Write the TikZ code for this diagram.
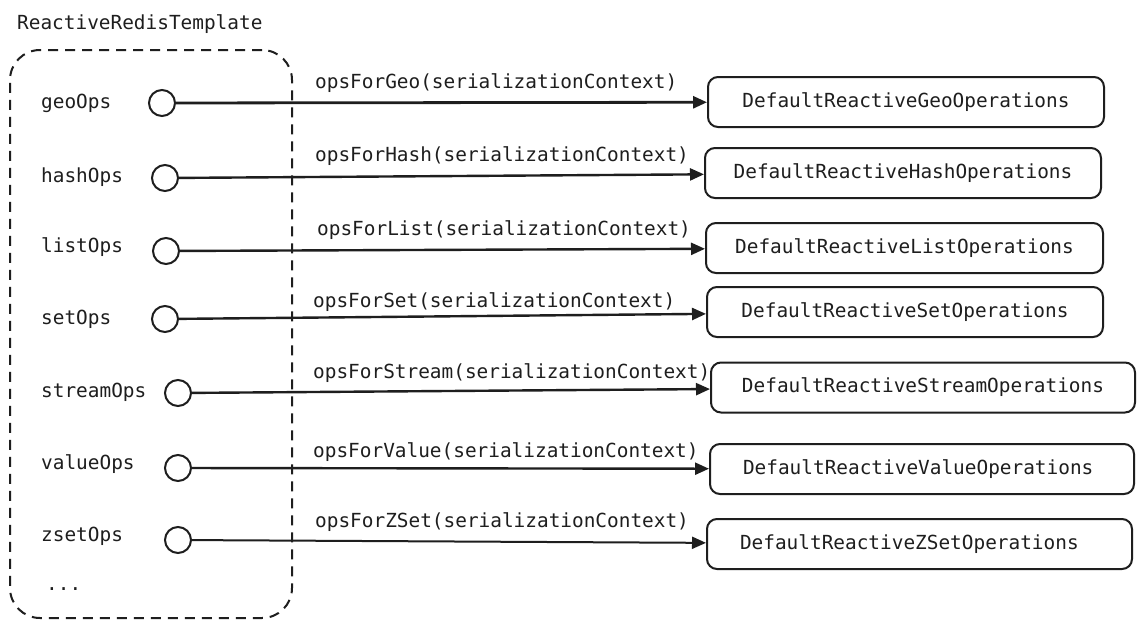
\documentclass[tikz,border=0pt]{standalone}
\usepackage{fontspec}
\newfontfamily\codefont{DejaVu Sans Mono}
\usetikzlibrary{arrows.meta}
\definecolor{ink}{HTML}{1E1E1E}
\tikzset{
  every node/.style={font=\codefont\fontsize{19.4}{23}\selectfont, text=ink},
  opbox/.style={draw=ink, line width=2pt, rounded corners=10pt, minimum height=50pt, inner sep=0pt},
  leftbox/.style={opbox, inner xsep=33pt, align=left},
  port/.style={draw=ink, line width=2pt, circle, minimum size=26pt, inner sep=0pt},
  conn/.style={draw=ink, line width=2.4pt, -{Triangle[length=14pt,width=12pt]}},
  txt/.style={anchor=base west, inner sep=0pt},
  tmplbox/.style={draw=ink, line width=2pt, dash pattern=on 10pt off 7pt, rounded corners=30pt, inner sep=0pt}
}
\begin{document}
\begin{tikzpicture}[x=1pt, y=-1pt]
\useasboundingbox[fill=white] (0,0) rectangle (1143,629);

% template container
\node[txt] (title) at (17,29) {ReactiveRedisTemplate};
\node[tmplbox, minimum width=282pt, minimum height=568pt] (tmpl) at (151,334) {};

% field labels
\node[txt] (lgeo) at (41,108) {geoOps};
\node[txt] (lhash) at (41,182) {hashOps};
\node[txt] (llist) at (41,252) {listOps};
\node[txt] (lset) at (41,324) {setOps};
\node[txt] (lstream) at (41,397) {streamOps};
\node[txt] (lvalue) at (41,469) {valueOps};
\node[txt] (lzset) at (41,541) {zsetOps};
\node[txt] (ldots) at (46,590) {...};

% ports
\node[port] (cgeo) at (162,103) {};
\node[port] (chash) at (165,178) {};
\node[port] (clist) at (166,251) {};
\node[port] (cset) at (165,319) {};
\node[port] (cstream) at (178,393) {};
\node[port] (cvalue) at (178,468) {};
\node[port] (czset) at (178,540) {};

% operation boxes
\node[opbox, minimum width=396pt] (bgeo) at (906,102) {DefaultReactiveGeoOperations};
\node[opbox, minimum width=396pt] (bhash) at (903,173) {DefaultReactiveHashOperations};
\node[opbox, minimum width=397pt] (blist) at (904.5,248) {DefaultReactiveListOperations};
\node[opbox, minimum width=396pt] (bset) at (905,312) {DefaultReactiveSetOperations};
\node[opbox, minimum width=424pt] (bstream) at (923,387.5) {DefaultReactiveStreamOperations};
\node[leftbox, text width=358pt] (bvalue) at (922,469) {DefaultReactiveValueOperations};
\node[leftbox, text width=359pt] (bzset) at (919.5,544) {DefaultReactiveZSetOperations};

% connector labels
\node[txt] (ogeo) at (315,88) {opsForGeo(serializationContext)};
\node[txt] (ohash) at (315,161) {opsForHash(serializationContext)};
\node[txt] (olist) at (317,235) {opsForList(serializationContext)};
\node[txt] (oset) at (313,307) {opsForSet(serializationContext)};
\node[txt] (ostream) at (313,378) {opsForStream(serializationContext)};
\node[txt] (ovalue) at (313,457) {opsForValue(serializationContext)};
\node[txt] (ozset) at (315,527) {opsForZSet(serializationContext)};

% connectors
\draw[conn, line width=2.8pt] (cgeo) -- (bgeo);
\draw[conn] (chash) -- (bhash);
\draw[conn] (clist) -- (blist);
\draw[conn] (cset) -- (bset);
\draw[conn] (cstream) -- (bstream);
\draw[conn] (cvalue) -- (bvalue);
\draw[conn, line width=2pt] (czset) -- (bzset);
\end{tikzpicture}
\end{document}
